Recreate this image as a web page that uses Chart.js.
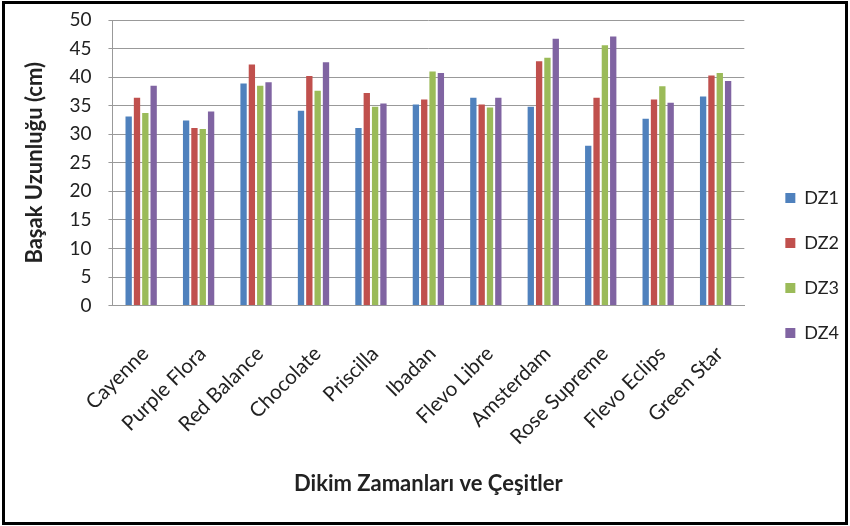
<!DOCTYPE html>
<html><head><meta charset="utf-8">
<script src="https://cdn.jsdelivr.net/npm/chart.js@4.4.1/dist/chart.umd.min.js"></script>
<style>html,body{margin:0;padding:0;background:#fff}#wrap{width:850px;height:526px;position:relative}</style>
</head><body><div id="wrap"><canvas id="c" width="850" height="526"></canvas></div>
<script>
const categories = ["Cayenne","Purple Flora","Red Balance","Chocolate","Priscilla","Ibadan","Flevo Libre","Amsterdam","Rose Supreme","Flevo Eclips","Green Star"];
const seriesNames = ["DZ1","DZ2","DZ3","DZ4"];
const dz1 = [33.1,32.4,38.9,34.1,31.1,35.2,36.4,34.8,28.0,32.7,36.6];
const dz2 = [36.4,31.1,42.2,40.2,37.2,36.1,35.2,42.8,36.4,36.1,40.3];
const dz3 = [33.7,30.9,38.5,37.6,34.8,41.0,34.7,43.4,45.6,38.4,40.7];
const dz4 = [38.5,34.0,39.1,42.6,35.4,40.7,36.4,46.7,47.1,35.5,39.3];
const colors = ["#4F81BD","#C0504D","#9BBB59","#8064A2"];
const yTitle = "Başak Uzunluğu (cm)";
const xTitle = "Dikim Zamanları ve Çeşitler";

const frame = {id:'frame', afterDraw(ch){const c=ch.ctx;c.save();c.strokeStyle='#000';c.lineWidth=3;c.strokeRect(3.5,2.5,843,521);c.restore();}};
const FONT = "Lato, 'Liberation Sans', sans-serif";
new Chart(document.getElementById('c'), {
  type:'bar',
  data:{labels:categories, datasets:[dz1,dz2,dz3,dz4].map((d,i)=>({label:seriesNames[i],data:d,backgroundColor:colors[i],borderWidth:0,categoryPercentage:0.58,barPercentage:0.76}))},
  options:{
    responsive:false, animation:false,
    layout:{padding:{left:22,top:20,right:1,bottom:29}},
    plugins:{
      legend:{position:'right',align:'center',
        title:{display:true,text:'',font:{size:10},padding:1},
        labels:{boxWidth:10,boxHeight:10,padding:27,color:'#222',font:{family:FONT,size:18}}},
      tooltip:{enabled:false}
    },
    scales:{
      x:{grid:{display:false,drawTicks:false},border:{color:'#999'},
         ticks:{color:'#222',font:{family:FONT,size:20.5},minRotation:45,maxRotation:45,padding:36,labelOffset:4,autoSkip:false},
         title:{display:true,text:xTitle,color:'#222',font:{family:FONT,size:22,weight:'bold'},padding:{top:28,bottom:0}},
         afterFit(s){s.height-=43;}},
      y:{min:0,max:50,ticks:{stepSize:5,autoSkip:false,color:'#222',font:{family:FONT,size:19},padding:17},
         grid:{color:'#999',lineWidth:1,tickLength:4},border:{color:'#999'},
         title:{display:true,text:yTitle,color:'#222',font:{family:FONT,size:22,weight:'bold'},padding:{top:0,bottom:4}},
         afterFit(s){s.paddingTop=0;}},
      y2:{position:'right',display:true,grid:{display:true,drawOnChartArea:false,drawTicks:true,tickLength:14,color:'rgba(0,0,0,0)'},
          border:{display:false},ticks:{display:false},afterFit(s){s.width=14;}}
    }
  },
  plugins:[frame]
});
</script></body></html>
